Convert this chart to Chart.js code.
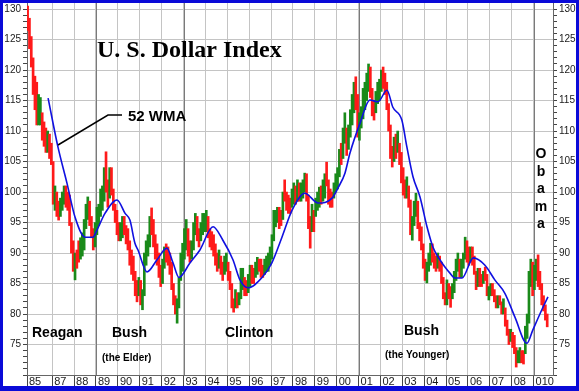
<!DOCTYPE html>
<html>
<head>
<meta charset="utf-8">
<script src="https://cdn.jsdelivr.net/npm/chart.js@4.4.1/dist/chart.umd.min.js"></script>
<style>
html,body{margin:0;padding:0;background:#fff;}
#wrap{width:579px;height:391px;position:relative;}
</style>
</head>
<body>
<div id="wrap"><canvas id="c" width="579" height="391"></canvas></div>
<script>
// ---------- DATA (monthly high / low, Nov 1985 .. Aug 2009) ----------
const firstYear = 1985, firstMonth = 10; // Nov 1985
const highs = [
  130.5,128.5,
  125.5,122,119,118,116,115.5,113,111.5,110.5,110,109.5,108,
  105,101,100,98.5,99,100,101,101,100,99.5,95,92,
  90,90.5,92,92.5,93.3,95.5,98,99.2,98.5,96,94,95,
  97.5,98,100.5,101,104,106.6,102,104,104,100.5,98,97,
  95,95,96,96,94.5,94,92,90.5,89.5,87,85.5,86,
  85.5,84,90,92,93,96,97.4,95.5,93,91.5,90,88,
  89,91,91.5,91,90,88.5,85,83,82.5,86,90,91.6,
  94,95.5,94,92,92,95,96.5,96,94,95,96.5,96.5,
  97,96,94,93.5,93,91.5,90,90.5,89.5,88.5,89.5,90,
  88.5,87,85,82.5,84,83.5,83.5,87.5,87.5,86,85.5,86.5,
  88,88,87.5,88.5,89.3,89,89,88,89,89.5,90,91,
  93,97,97,97.5,97.5,97,100,102,100,99.5,99,100.5,
  101.5,101,102,101.5,101.5,102,103.1,103,99.5,96,98,97,
  99,100,100.8,101,102,103,104.9,102,100.5,100,101.5,103,
  104,107,108,110.5,113,110.5,111,113.5,116,118,118.9,116,
  113,114,117,118,119.5,121,120.5,117,115,116.5,118,118.5,
  120,120.5,119.5,118,114.5,111,107.5,109,109.5,110,108,106.5,
  104,102,102.5,101,98.7,96,98.5,99.8,98.5,95,94.3,91.5,
  89,88.5,90,91.6,91.5,90,89.5,90,89.5,88.5,86,83.5,
  85.6,85,84.5,85,87,89,90,89,89,90,92.6,92,
  91,91,91,89.5,87,87.5,87.5,86.5,87,87.7,86.5,84.5,
  85,85,84,83,83,83,82,82.5,81,79,77.5,77.5,
  77,76.5,74.5,74,74.5,74,74,78,80,87,89,88.5,
  88,89,89.7,87,85,83,81.5,80
];
const lows = [
  126.5,123.5,
  120.5,116,113.5,111,111,111,108.5,107.5,106.5,106.5,105.5,104.5,
  98,97,96,95.4,96,97,98,97.5,97,94.5,90,87,
  85.6,87.5,88.5,89,89.5,90.5,94,95.5,94.5,92.5,90.5,91,
  93,94.5,96,97,98.5,100,97.5,99,99.5,97,95,93,
  92,92,92.5,93,91.5,90.5,88,86.5,85.5,83,82,83,
  81.5,80.7,83,88,89.5,91,93,91,89,88,86,84.5,
  85,87.5,88.5,88,86.5,84,81.5,80,78.5,81,85.5,87,
  89,90.5,89.5,88.5,89,90.5,93,92,91,92,93,93.5,
  93.5,92.5,91,90.5,89.5,88,87,87.5,86.5,85.5,86.5,87,
  85.5,84,81,80.3,81,81,81.5,82.5,84,83,83,83.5,
  84.5,85,85,86,86.5,87,86,86,86.5,87,87,88,
  89,92,94.3,95,94,94.5,95.5,98.5,97,96.5,96.5,97.5,
  98,98,98.5,98.5,98.5,99,100,98.5,94,90.8,93.5,93.5,
  96,97,97.5,98,98.5,99,101,98,97.5,97.5,99,100,
  100.5,102.5,104.5,105.5,108,106,107,109,111,113,113.5,109,
  108.5,110.5,112,113.5,115,116.5,115.5,112.5,111.8,113,114.5,115,
  116.5,117,116,113.5,110,105.5,104.1,105,105.5,106.5,104.5,101.5,
  99.5,99,99,97.5,93,92.1,94.5,96,94,92,90.5,87.5,
  85.5,85.1,87,88,88.5,87.5,87,87.5,87,85,82.5,81.5,
  81.5,82.5,81.1,82.5,83.5,85.5,87,86,86,87.5,89,88.5,
  88,88.5,88,86.5,84,84.5,84.5,84.5,85,85.5,83,82.3,
  83,83,82,81,81,81.5,80,80,78,76.5,75,75.5,
  74.5,73.5,71.3,72,72,72,71.8,73.5,76,78.5,84.5,83,
  84,85.5,84.5,84,81.5,80.5,79,77.9
];
// 1 = month closed up (green), 0 = closed down (red)
const upMonths = [
  0,0,
  0,0,0,0,1,1,0,0,0,1,0,0,
  0,1,0,0,1,1,1,0,0,0,0,0,
  1,0,0,1,1,1,1,1,0,0,0,1,
  1,1,1,1,1,0,0,1,0,0,0,0,
  0,1,1,0,0,0,0,0,0,0,0,1,
  0,1,1,1,1,1,0,0,0,0,0,0,
  1,1,0,0,0,0,0,0,1,1,1,1,
  1,1,0,0,1,1,1,0,0,1,1,1,
  1,0,0,0,0,0,0,1,0,0,1,1,
  0,0,0,0,1,0,1,1,1,0,0,1,
  1,0,0,1,1,0,0,0,1,1,1,1,
  1,1,1,1,0,0,1,0,0,0,0,1,
  1,0,1,0,1,1,1,0,0,0,1,0,
  1,1,1,0,1,1,0,0,0,0,1,1,
  1,1,0,1,1,0,1,1,1,1,0,0,
  1,1,1,1,1,1,0,0,0,1,1,1,
  1,0,0,0,0,0,0,1,0,1,0,0,
  0,0,1,0,0,1,1,1,0,0,0,0,
  0,1,1,1,0,0,0,1,0,0,0,0,
  1,0,0,1,1,1,1,0,1,1,1,0,
  0,1,0,0,0,1,0,0,1,0,0,1,
  1,0,0,0,1,0,0,1,0,0,0,1,
  0,0,0,1,1,0,0,1,1,1,1,0,
  1,1,0,0,0,0,0,0
];
// 52-week weighted moving average
const wmaDates = [1986.81,1987.26,1987.67,1988.04,1988.50,1988.86,1989.05,1989.41,1989.96,1990.33,1990.55,1990.78,1990.92,1991.33,1991.79,1992.24,1992.52,1992.79,1993.30,1993.75,1994.35,1994.80,1995.26,1995.58,1995.95,1996.59,1997.04,1997.50,1997.96,1998.55,1999.15,1999.79,2000.08,2000.38,2000.61,2001.07,2001.52,2001.89,2002.30,2002.57,2002.98,2003.21,2003.49,2003.81,2004.13,2004.40,2004.72,2004.95,2005.18,2005.41,2005.73,2006.25,2006.78,2007.23,2007.69,2008.15,2008.70,2008.97,2009.38,2009.66];
const wmaValues = [115.4,107.4,101.5,95.9,92.6,92.6,93.8,96.5,98.7,96.5,95.4,91.6,90.5,86.9,88.9,90.8,88.4,86,88.4,90.5,94.3,92.1,88.9,85.6,84.3,86,88.4,92.6,97,99.8,98.2,99,100.8,103.1,106.4,111.3,115.1,114.8,116.7,113.9,111.8,107.4,102.5,99.2,94.3,91,88.9,87.7,86.7,85.9,85.9,89.2,88,85.6,83.4,79.5,75.2,77.4,80.7,82.8];
// x-axis tick years and their labels
const tickYears = [1985.846,1987,1988,1989,1990,1991,1992,1993,1994,1995,1996,1997,1998,1999,2000,2001,2002,2003,2004,2005,2006,2007,2008,2009];
const tickLabels = ['85','87','88','89','90','91','92','93','94','95','96','97','98','99','00','01','02','03','04','05','06','07','08','010'];
const presidentYears = [1989,1993,2001,2009];

// ---------- build datasets ----------
const barData = highs.map((h,i)=>({x: firstYear + (firstMonth + i + 0.5)/12, y:[lows[i], h]}));
const barColors = upMonths.map(u => u ? '#1a8a1a' : '#ff1a1a');
const wmaData = wmaDates.map((d,i)=>({x:d, y:wmaValues[i]}));

const GRID = '#c4c4c4';
const TXT = '#1a1a1a';

const annotations = {
  id:'annotations',
  beforeDatasetsDraw(chart){
    const {ctx, chartArea:a, scales:{x}} = chart;
    ctx.save();
    ctx.strokeStyle = '#7a7a7a';
    ctx.lineWidth = 1;
    presidentYears.forEach(yr=>{
      const px = Math.round(x.getPixelForValue(yr)) + 0.5;
      ctx.beginPath(); ctx.moveTo(px, a.top); ctx.lineTo(px, a.bottom); ctx.stroke();
    });
    ctx.restore();
  },
  afterDraw(chart){
    const {ctx} = chart;
    ctx.save();
    ctx.fillStyle = '#000';
    ctx.textBaseline = 'alphabetic';
    ctx.font = 'bold 24px "Liberation Serif", "Times New Roman", serif';
    ctx.fillText('U. S. Dollar Index', 97, 57);
    // 52 WMA pointer
    ctx.strokeStyle = '#000'; ctx.lineWidth = 1.5;
    ctx.beginPath(); ctx.moveTo(58,145); ctx.lineTo(108,115); ctx.lineTo(122,115); ctx.stroke();
    ctx.font = 'bold 15px "Liberation Sans", Arial, sans-serif';
    ctx.fillText('52 WMA', 128, 121);
    ctx.font = 'bold 14px "Liberation Sans", Arial, sans-serif';
    ctx.fillText('Reagan', 32, 337);
    ctx.fillText('Bush', 112, 337);
    ctx.fillText('Clinton', 225, 337);
    ctx.fillText('Bush', 404, 335);
    ctx.font = 'bold 10px "Liberation Sans", Arial, sans-serif';
    ctx.fillText('(the Elder)', 102, 361);
    ctx.fillText('(the Younger)', 385, 358);
    ctx.font = 'bold 14px "Liberation Sans", Arial, sans-serif';
    ctx.textAlign = 'center';
    const letters = ['O','b','a','m','a'];
    letters.forEach((ch,i)=> ctx.fillText(ch, 541, 158 + i*17.5));
    // frame
    ctx.strokeStyle = '#0a0ad8'; ctx.lineWidth = 3;
    ctx.strokeRect(1.5,1.5,576,386);
    ctx.fillStyle = '#0a0ad8';
    ctx.fillRect(0,386,579,5);
    ctx.restore();
  }
};

const noPad = s => { s.paddingTop = 0; s.paddingBottom = 0; s.paddingLeft = 0; s.paddingRight = 0; };
const yTickBuild = s => { const t=[]; for(let v=70; v<=130; v++) t.push({value:v}); s.ticks = t; };
const yLabel = v => (v % 5 === 0 && v >= 75) ? String(v) : '';

new Chart(document.getElementById('c'), {
  data:{
    datasets:[
      {type:'line', data:wmaData, borderColor:'#1010e0', borderWidth:1.6, pointRadius:0, tension:0.4, cubicInterpolationMode:'monotone', order:0},
      {type:'bar', data:barData, backgroundColor:barColors, barThickness:2, grouped:false, order:1}
    ]
  },
  options:{
    responsive:false, animation:false, devicePixelRatio:1,
    layout:{padding:{top:3,left:0,right:0,bottom:0}},
    plugins:{legend:{display:false}, tooltip:{enabled:false}},
    scales:{
      x:{type:'linear', position:'bottom', min:1985.846, max:2009.89, offset:false,
         afterFit:s=>{s.height=16; noPad(s);},
         afterBuildTicks:s=>{s.ticks = tickYears.map(v=>({value:v}));},
         ticks:{autoSkip:false, maxRotation:0, align:'start', labelOffset:2, padding:-11, color:TXT,
                font:{family:'"Liberation Sans", Arial, sans-serif', size:11},
                callback:(v,i)=>tickLabels[i]},
         grid:{offset:false, color:GRID, borderDash:[1,2], tickLength:11, tickColor:'#444', tickBorderDash:[]},
         border:{display:true, color:'#666', width:1}
      },
      y:{type:'linear', position:'left', min:70, max:131,
         afterFit:s=>{s.width=27; noPad(s);},
         afterBuildTicks:yTickBuild,
         ticks:{autoSkip:false, color:TXT, padding:2, font:{family:'"Liberation Sans", Arial, sans-serif', size:10}, callback:yLabel},
         grid:{color:c=> (c.tick && c.tick.value%5===0) ? GRID : 'rgba(0,0,0,0)', borderDash:[1,2], tickLength:4, tickColor:'#444', tickBorderDash:[]},
         border:{display:true, color:'#666', width:1}
      },
      y2:{type:'linear', position:'right', min:70, max:131,
         afterFit:s=>{s.width=26; noPad(s);},
         afterBuildTicks:yTickBuild,
         ticks:{autoSkip:false, color:TXT, padding:2, font:{family:'"Liberation Sans", Arial, sans-serif', size:10}, callback:yLabel},
         grid:{drawOnChartArea:false, tickLength:4, tickColor:'#444'},
         border:{display:true, color:'#666', width:1}
      }
    }
  },
  plugins:[annotations]
});
</script>
</body>
</html>
